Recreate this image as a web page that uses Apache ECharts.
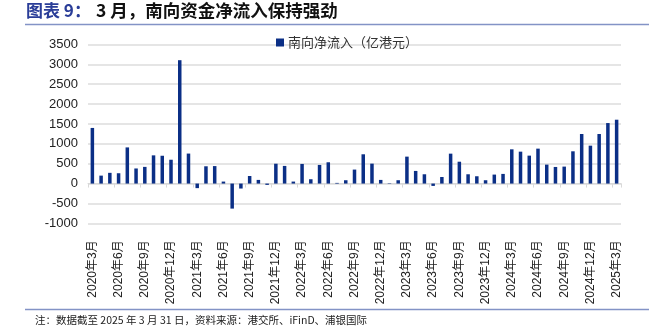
<!DOCTYPE html>
<html>
<head>
<meta charset="utf-8">
<script src="https://cdn.jsdelivr.net/npm/echarts@6/dist/echarts.min.js"></script>
<style>
  html, body { margin: 0; padding: 0; background: #fff; }
  #chart { width: 649px; height: 330px; }
</style>
</head>
<body>
<div id="chart"></div>
<script>
// Monthly southbound net inflow, 2020-03 .. 2025-03 (100 million HKD)
const months = [
  '2020年3月','2020年4月','2020年5月','2020年6月','2020年7月','2020年8月','2020年9月','2020年10月','2020年11月','2020年12月',
  '2021年1月','2021年2月','2021年3月','2021年4月','2021年5月','2021年6月','2021年7月','2021年8月','2021年9月','2021年10月','2021年11月','2021年12月',
  '2022年1月','2022年2月','2022年3月','2022年4月','2022年5月','2022年6月','2022年7月','2022年8月','2022年9月','2022年10月','2022年11月','2022年12月',
  '2023年1月','2023年2月','2023年3月','2023年4月','2023年5月','2023年6月','2023年7月','2023年8月','2023年9月','2023年10月','2023年11月','2023年12月',
  '2024年1月','2024年2月','2024年3月','2024年4月','2024年5月','2024年6月','2024年7月','2024年8月','2024年9月','2024年10月','2024年11月','2024年12月',
  '2025年1月','2025年2月','2025年3月'
];

const netInflow = [
  1400, 200, 270, 260, 910, 380, 420, 710, 700, 600,
  3105, 755, -115, 435, 440, 50, -630, -125, 190, 92, -33, 500,
  444, 50, 494, 109, 469, 536, 17, 84, 352, 737, 502, 92,
  10, 84, 678, 318, 234, -59, 165, 753, 550, 234, 184, 84,
  226, 243, 862, 803, 703, 879, 477, 418, 427, 812, 1247, 954,
  1247, 1523, 1607
];

const seriesName = '南向净流入（亿港元）';
const titleLead = '图表 9：';
const titleRest = '3 月，南向资金净流入保持强劲';
const footNote = '注：数据截至 2025 年 3 月 31 日，资料来源：港交所、iFinD、浦银国际';

const chart = echarts.init(document.getElementById('chart'), null, { renderer: 'canvas' });

const sans = '"Liberation Sans", Arial, "Noto Sans CJK SC", sans-serif';
const cjk = '"Noto Sans CJK SC", sans-serif';

chart.setOption({
  backgroundColor: '#ffffff',
  animation: false,
  graphic: [
    {
      type: 'text', left: 26, top: 2,
      style: { text: titleLead, fill: '#2a3d98', font: 'bold 17px ' + cjk }
    },
    {
      type: 'text', left: 96, top: 2,
      style: { text: titleRest, fill: '#111111', font: 'bold 17.5px ' + cjk }
    },
    {
      type: 'line',
      shape: { x1: 25, y1: 24.5, x2: 649, y2: 24.5 },
      style: { stroke: '#8393c6', lineWidth: 1.5 }
    },
    {
      type: 'line',
      shape: { x1: 25, y1: 309.5, x2: 649, y2: 309.5 },
      style: { stroke: '#8393c6', lineWidth: 1.5 }
    },
    {
      type: 'text', left: 35, top: 315,
      style: { text: footNote, fill: '#222222', font: '10.5px ' + cjk }
    }
  ],
  legend: {
    data: [seriesName],
    left: 271, top: 31,
    itemWidth: 8, itemHeight: 8, itemGap: 4,
    icon: 'rect',
    textStyle: { fontFamily: cjk, fontSize: 13, color: '#333333', padding: [0, 0, 0, -1] }
  },
  grid: { left: 88, right: 28, top: 44.5, bottom: 106.7, containLabel: false },
  xAxis: [
    {
      type: 'category',
      data: months,
      boundaryGap: true,
      axisLine: { onZero: true, lineStyle: { color: '#d9d9d9', width: 1 } },
      axisTick: { show: true, interval: 2, length: 4, lineStyle: { color: '#d9d9d9' } },
      axisLabel: { show: false },
      splitLine: { show: false }
    },
    {
      type: 'category',
      data: months,
      position: 'bottom',
      boundaryGap: true,
      axisLine: { show: false, onZero: false },
      axisTick: { show: false },
      axisLabel: {
        interval: 2, rotate: 90, margin: 17,
        fontFamily: sans, fontSize: 12, color: '#222222'
      }
    }
  ],
  yAxis: {
    type: 'value',
    min: -1000, max: 3500, interval: 500,
    axisLine: { show: false },
    axisTick: { show: false },
    axisLabel: {
      fontFamily: sans, fontSize: 13, color: '#222222', margin: 10,
      formatter: function (v) { return String(v); }
    },
    splitLine: { lineStyle: { color: '#dcdcdc', width: 1.5 } }
  },
  series: [
    {
      name: seriesName,
      type: 'bar',
      xAxisIndex: 0,
      data: netInflow,
      barWidth: 3.5,
      itemStyle: { color: '#0b2f86' }
    }
  ]
});
</script>
</body>
</html>
